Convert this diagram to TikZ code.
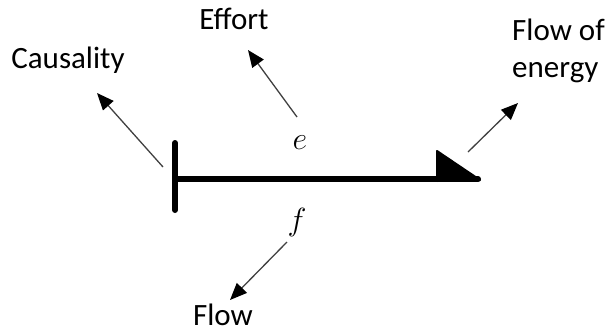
\documentclass[tikz,border=0pt]{standalone}
\usepackage{fix-cm}
\usepackage{fontspec}
\setmainfont{Carlito}
\usetikzlibrary{arrows.meta}
\begin{document}
\begin{tikzpicture}[x=1pt, y=-1pt,
    bond/.style={line width=6pt, line cap=round},
    pointer/.style={-{Triangle[length=17pt, width=14pt, black]}, line width=1.3pt, draw=black!75},
    lbl/.style={font=\fontsize{31}{37}\selectfont, inner sep=0pt},
    var/.style={font=\fontsize{32}{34}\selectfont, inner sep=0pt}]
  \useasboundingbox (0,0) rectangle (606,330);

  %% --- the bond with its causal stroke and half arrow ---
  \coordinate (bondL) at (175,179);
  \coordinate (bondR) at (478,179);
  \coordinate (strokeT) at (175,143);
  \coordinate (strokeB) at (175,210);
  \draw[bond] (bondL) -- (bondR);
  \draw[bond] (strokeT) -- (strokeB);
  \filldraw[line width=2pt, line join=round]
    (437,151) -- (480,180) -- (437,181) -- cycle;

  %% power variables
  \node[var] (eff) at (300,143) {$e$};
  \node[var] (flw) at (297,222) {$f$};

  %% labels
  \node[lbl] (causality) at (68,60) {Causality};
  \node[lbl] (effort) at (234,19) {Effort};
  \node[lbl, align=left, anchor=north west] (energy) at (512,19) {Flow of\\energy};
  \node[lbl, anchor=base] (flow) at (223,325) {Flow};

  %% pointers
  \coordinate (causTail) at (163,167);
  \coordinate (causTip) at (97,93);
  \coordinate (effTail) at (297,117);
  \coordinate (effTip) at (248,50);
  \coordinate (enTail) at (468,152);
  \coordinate (enTip) at (518,103);
  \coordinate (flowTail) at (287,242);
  \coordinate (flowTip) at (230,300);
  \draw[pointer] (causTail) -- (causTip);
  \draw[pointer] (effTail) -- (effTip);
  \draw[pointer] (enTail) -- (enTip);
  \draw[pointer] (flowTail) -- (flowTip);
\end{tikzpicture}
\end{document}
